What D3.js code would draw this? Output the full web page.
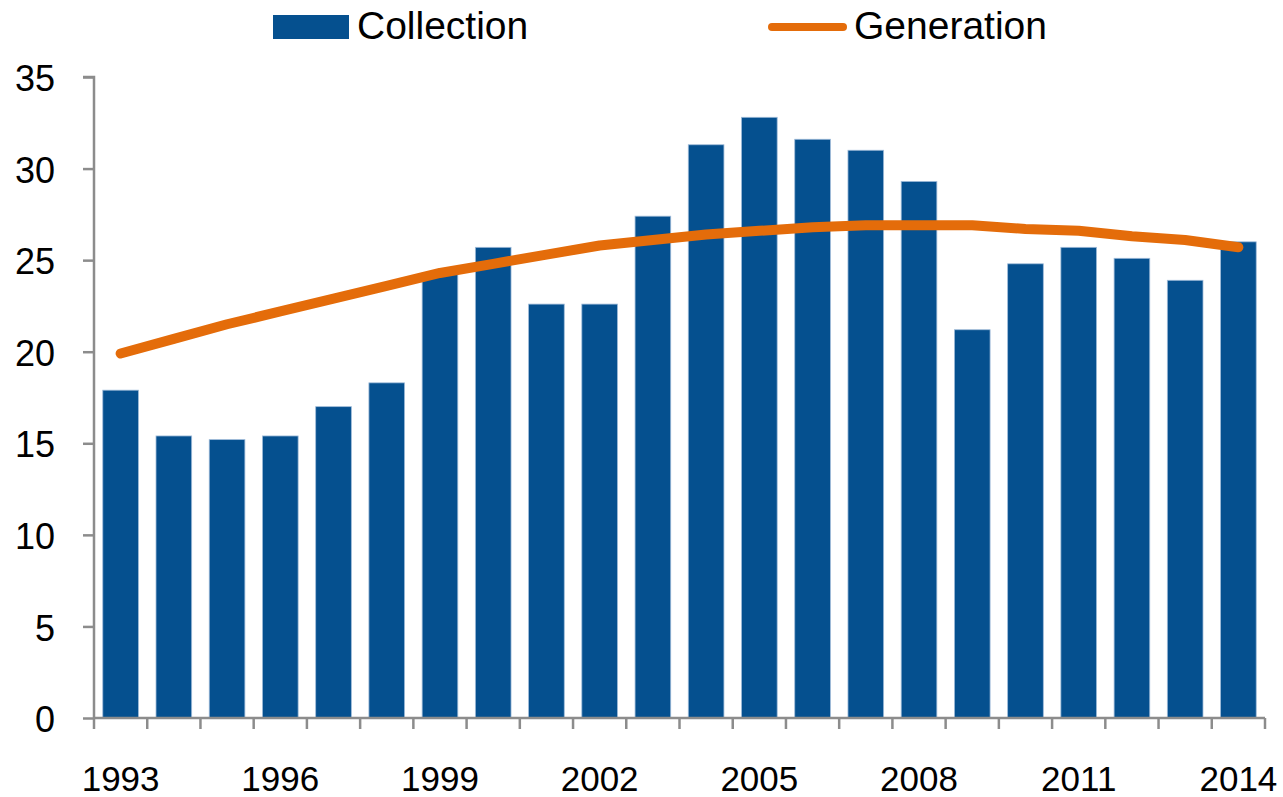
<!DOCTYPE html>
<html>
<head>
<meta charset="utf-8">
<script src="https://cdn.jsdelivr.net/npm/d3@7"></script>
<style>
  html, body { margin: 0; padding: 0; background: #fff; }
  svg { display: block; font-family: "Liberation Sans", Arial, sans-serif; }
</style>
</head>
<body>
<div id="chart"></div>
<script>
// data
const years = d3.range(1993, 2015);
const collection = [17.9, 15.4, 15.2, 15.4, 17.0, 18.3, 24.3, 25.7, 22.6, 22.6, 27.4,
                    31.3, 32.8, 31.6, 31.0, 29.3, 21.2, 24.8, 25.7, 25.1, 23.9, 26.0];
const generation = [19.9, 20.7, 21.5, 22.2, 22.9, 23.6, 24.3, 24.8, 25.3, 25.8, 26.1,
                    26.4, 26.6, 26.8, 26.9, 26.9, 26.9, 26.7, 26.6, 26.3, 26.1, 25.7];
const yTicks = [0, 5, 10, 15, 20, 25, 30, 35];
const xLabelYears = [1993, 1996, 1999, 2002, 2005, 2008, 2011, 2014];

const width = 1283, height = 797;
const blue = "#05508f", orange = "#e46c0a", axisGrey = "#8c8c8c";

const svg = d3.select("#chart").append("svg")
    .attr("width", width)
    .attr("height", height);

const x = d3.scaleBand()
    .domain(years)
    .range([94, 1265])
    .paddingInner(0.33)
    .paddingOuter(0.165);

const y = d3.scaleLinear()
    .domain([0, 35])
    .range([718, 77]);

// bars
svg.append("g")
    .selectAll("rect")
    .data(collection)
    .join("rect")
    .attr("x", (d, i) => x(years[i]))
    .attr("y", d => y(d))
    .attr("width", x.bandwidth())
    .attr("height", d => y(0) - y(d))
    .attr("fill", blue)
    .attr("stroke", "#9fbbd9")
    .attr("stroke-width", 0.8);

// y axis
const yAxis = svg.append("g")
    .attr("transform", `translate(${x.range()[0]},0)`)
    .call(d3.axisLeft(y).tickValues(yTicks).tickSize(11).tickPadding(28));
yAxis.select(".domain").attr("stroke", axisGrey).attr("stroke-width", 2.5)
    .attr("d", `M-11,${y(35)}H0V${y(0)}`);
yAxis.selectAll(".tick line").attr("stroke", axisGrey).attr("stroke-width", 2.5);
yAxis.selectAll(".tick text")
    .attr("fill", "#000")
    .attr("dy", "0.38em")
    .style("font-size", "36px");

// x axis: ticks on the category boundaries, labels every third year
const step = x.step();
const x0 = x.range()[0];
const bounds = d3.range(years.length + 1).map(i => x0 + i * step);

const xAxis = svg.append("g")
    .attr("transform", `translate(0,${y(0)})`);
xAxis.append("line")
    .attr("x1", x.range()[0]).attr("x2", x.range()[1])
    .attr("stroke", axisGrey).attr("stroke-width", 2.5);
xAxis.selectAll("line.bound")
    .data(bounds)
    .join("line")
    .attr("class", "bound")
    .attr("x1", d => d).attr("x2", d => d)
    .attr("y1", 0).attr("y2", 11)
    .attr("stroke", axisGrey).attr("stroke-width", 2.5);

const xLabels = svg.append("g")
    .attr("transform", `translate(0,${y(0)})`)
    .call(d3.axisBottom(x).tickValues(xLabelYears).tickSize(0).tickPadding(48));
xLabels.select(".domain").remove();
xLabels.selectAll(".tick text")
    .attr("fill", "#000")
    .style("font-size", "35px");

// generation line
const line = d3.line()
    .x((d, i) => x(years[i]) + x.bandwidth() / 2)
    .y(d => y(d));

svg.append("path")
    .datum(generation)
    .attr("d", line)
    .attr("fill", "none")
    .attr("stroke", orange)
    .attr("stroke-width", 10)
    .attr("stroke-linecap", "round")
    .attr("stroke-linejoin", "round");

// legend
const legend = svg.append("g").style("font-size", "39px");
legend.append("rect")
    .attr("x", 273).attr("y", 15)
    .attr("width", 76).attr("height", 24)
    .attr("fill", blue);
legend.append("text")
    .attr("x", 357).attr("y", 39)
    .text("Collection");
legend.append("line")
    .attr("x1", 772).attr("x2", 843)
    .attr("y1", 27).attr("y2", 27)
    .attr("stroke", orange)
    .attr("stroke-width", 8)
    .attr("stroke-linecap", "round");
legend.append("text")
    .attr("x", 854).attr("y", 39)
    .text("Generation");
</script>
</body>
</html>
